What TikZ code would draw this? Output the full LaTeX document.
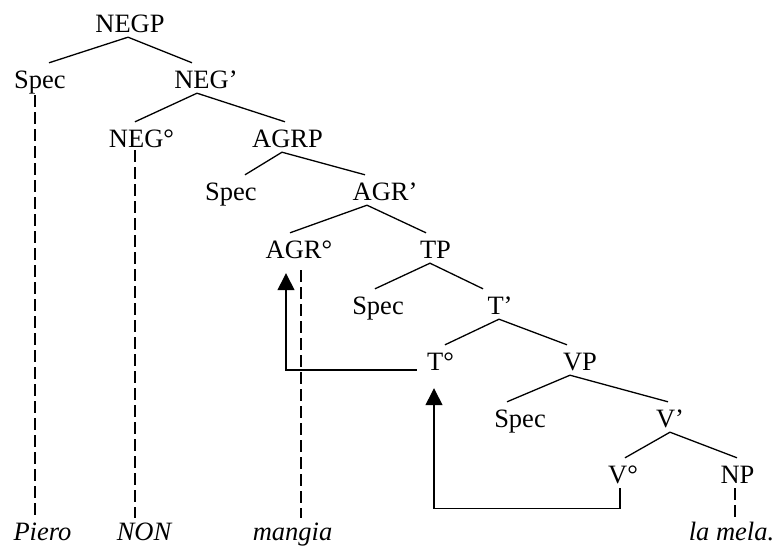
\documentclass[tikz,border=0pt]{standalone}
\usepackage{fontspec}
\setmainfont{Liberation Serif}
\usetikzlibrary{arrows.meta}
\begin{document}
\begin{tikzpicture}[x=1pt,y=-1pt,
  lab/.style={font=\fontsize{26.5}{30}\selectfont, inner sep=0pt, text height=25pt, text depth=5pt, anchor=base},
  word/.style={lab, font=\fontsize{26.5}{30}\selectfont\itshape},
  branch/.style={line width=1.3pt},
  trace/.style={line width=1.4pt, dash pattern=on 12pt off 5pt},
  movearrow/.style={line width=1.4pt, -{Triangle[length=17pt,width=17pt]}}]
\useasboundingbox (0,0) rectangle (775,546);
% nodes
\node[lab] (negp) at (130,32) {NEGP};
\node[lab] (spec1) at (40,88) {Spec};
\node[lab] (negbar) at (206,88) {NEG’};
\node[lab] (neg0) at (141.5,147) {NEG°};
\node[lab] (agrp) at (287.5,147) {AGRP};
\node[lab] (spec2) at (231,200) {Spec};
\node[lab] (agrbar) at (385,200) {AGR’};
\node[lab] (agr0) at (299,258) {AGR°};
\node[lab] (tp) at (435.5,258) {TP};
\node[lab] (spec3) at (378,314) {Spec};
\node[lab] (tbar) at (500,314) {T’};
\node[lab] (t0) at (440.5,370) {T°};
\node[lab] (vp) at (580,370) {VP};
\node[lab] (spec4) at (520,427) {Spec};
\node[lab] (vbar) at (670,427) {V’};
\node[lab] (v0) at (623,483) {V°};
\node[lab] (np) at (737.5,483) {NP};
\node[word] (piero) at (42.5,540) {Piero};
\node[word] (non) at (144,540) {NON};
\node[word] (mangia) at (292.5,540) {mangia};
\node[word] (lamela) at (731.5,540) {la mela.};
% branches
\draw[branch] ([xshift=9pt]spec1.north) -- ([xshift=-2pt]negp.south) -- ([xshift=-14pt]negbar.north);
\draw[branch] ([xshift=-6.5pt]neg0.north) -- ([xshift=-9pt]negbar.south) -- ([xshift=-2.5pt]agrp.north);
\draw[branch] ([xshift=14pt]spec2.north) -- ([xshift=-5.5pt]agrp.south) -- ([xshift=-20pt]agrbar.north);
\draw[branch] ([xshift=-9pt]agr0.north) -- ([xshift=-18pt]agrbar.south) -- ([xshift=-9.5pt]tp.north);
\draw[branch] ([xshift=-3pt]spec3.north) -- ([xshift=-5.5pt]tp.south) -- ([xshift=-17pt]tbar.north);
\draw[branch] ([xshift=4.5pt]t0.north) -- ([xshift=-1pt]tbar.south) -- ([xshift=-13pt]vp.north);
\draw[branch] ([xshift=-13pt]spec4.north) -- ([xshift=-10pt]vp.south) -- ([xshift=-2pt]vbar.north);
\draw[branch] ([xshift=2pt]v0.north) -- (vbar.south) -- ([xshift=-0.5pt]np.north);
% traces
\draw[trace] ([xshift=-5pt,yshift=-2pt]spec1.south) -- ([xshift=-5pt,yshift=-3pt]spec1.south |- piero.north);
\draw[trace] ([xshift=-6.5pt,yshift=2pt]neg0.south) -- ([xshift=-6.5pt,yshift=-3pt]neg0.south |- non.north);
\draw[trace] ([xshift=2pt,yshift=-7pt]agr0.south) -- ([xshift=2pt,yshift=-3pt]agr0.south |- mangia.north);
\draw[trace] ([xshift=-2.5pt]np.south) -- ([xshift=-2.5pt,yshift=-3pt]np.south |- lamela.north);
% movement arrows
\draw[movearrow] ([xshift=-10pt]t0.base west) -| ([xshift=-13pt,yshift=-10pt]agr0.south);
\draw[movearrow] ([xshift=-3pt]v0.south) -- ++(0,20) -| ([xshift=-6.5pt,yshift=-13pt]t0.south);
\end{tikzpicture}
\end{document}
